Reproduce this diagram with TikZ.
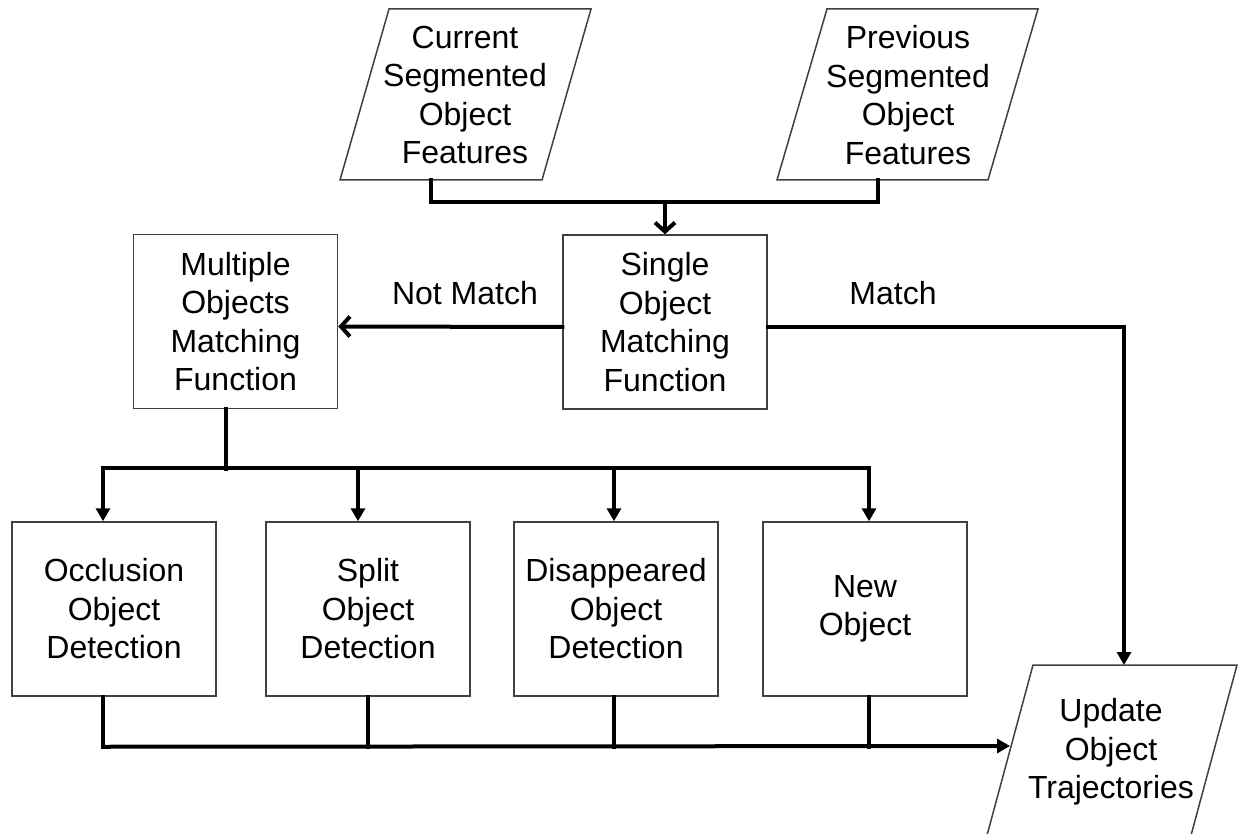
\documentclass[tikz,border=0pt]{standalone}
\usepackage{fontspec}
\setmainfont{Liberation Sans}
\usetikzlibrary{arrows.meta}
\begin{document}
\begin{tikzpicture}[x=1pt,y=-1pt,
  lbl/.style={align=center, inner sep=0pt, font=\fontsize{32}{38.5}\selectfont},
  box/.style={lbl, draw=black!75, line width=1.5pt, fill=white,
              minimum width=204pt, minimum height=174pt},
  io/.style={draw=black!75, line width=1.5pt, fill=white, line join=miter},
  conn/.style={line width=4pt, line cap=rect},
  opentip/.style={conn, -{Straight Barb[length=9pt,width=20pt]}},
  filltip/.style={conn, -{Triangle[length=13pt,width=14pt]}}]
\clip (0,0) rectangle (1247,834);
\fill[white] (0,0) rectangle (1247,834);

% input data
\draw[io] (340,180) -- (542,180) -- (591,9) -- (389,9) -- cycle;
\node[lbl] (cur) at (465,95) {Current\\Segmented\\Object\\Features};
\draw[io] (777,180) -- (988,180) -- (1038,9) -- (827,9) -- cycle;
\node[lbl] (prev) at (908,95) {Previous\\Segmented\\Object\\Features};

% matching stages
\node[box] (single) at (665,322) {Single\\Object\\Matching\\Function};
\node[box] (mult) at (235.5,321.5) {Multiple\\Objects\\Matching\\Function};

% detection stages
\node[box] (occ) at (114,609) {Occlusion\\Object\\Detection};
\node[box] (split) at (368,609) {Split\\Object\\Detection};
\node[box] (dis) at (616,609) {Disappeared\\Object\\Detection};
\node[box] (new) at (865,609) {New\\Object};

% output
\draw[io] (986,839) -- (1190,839) -- (1237,665) -- (1033,665) -- cycle;
\node[lbl] (upd) at (1111,752) {Update\\Object\\Trajectories};

% connection points on the slanted shapes
\coordinate (cur-out) at (431,180);
\coordinate (prev-out) at (878,180);
\coordinate (merge) at (665,202);
\coordinate (upd-top) at (1124,665);
\coordinate (upd-left) at (1010,746);
\coordinate (bus) at (226,469);

% inputs merge into the single-object matcher
\draw[conn] (cur-out) -- (cur-out |- merge) -- (prev-out |- merge) -- (prev-out);
\draw[opentip] (merge) -- (single.north);

% match / not match
\draw[opentip] ([yshift=-5pt]single.west) -- ([yshift=-5pt]mult.east);
\draw[filltip] ([yshift=-5pt]single.east) -| (upd-top);
\node[lbl] (notmatch) at (465,293) {Not Match};
\node[lbl] (match) at (893,293) {Match};

% fan-out to the detection stages
\draw[conn] ([xshift=-9.5pt]mult.south) -- (bus);
\draw[conn] ([xshift=-11pt,yshift=53pt]occ.north) -- ([xshift=4pt,yshift=53pt]new.north);
\draw[filltip] ([xshift=-11pt,yshift=53pt]occ.north) -- ([xshift=-11pt]occ.north);
\draw[filltip] ([xshift=-10pt,yshift=53pt]split.north) -- ([xshift=-10pt]split.north);
\draw[filltip] ([xshift=-2pt,yshift=53pt]dis.north) -- ([xshift=-2pt]dis.north);
\draw[filltip] ([xshift=4pt,yshift=53pt]new.north) -- ([xshift=4pt]new.north);

% detection results collected into the trajectory update
\draw[conn] ([xshift=-11pt]occ.south) -- ([xshift=-11pt,yshift=-50pt]occ.south);
\draw[conn] (split.south) -- ([yshift=-50pt]split.south);
\draw[conn] ([xshift=-2pt]dis.south) -- ([xshift=-2pt,yshift=-50pt]dis.south);
\draw[conn] ([xshift=4pt]new.south) -- ([xshift=4pt,yshift=-50pt]new.south);
\draw[filltip] ([xshift=-11pt,yshift=-50pt]occ.south) -- (upd-left);
\end{tikzpicture}
\end{document}
